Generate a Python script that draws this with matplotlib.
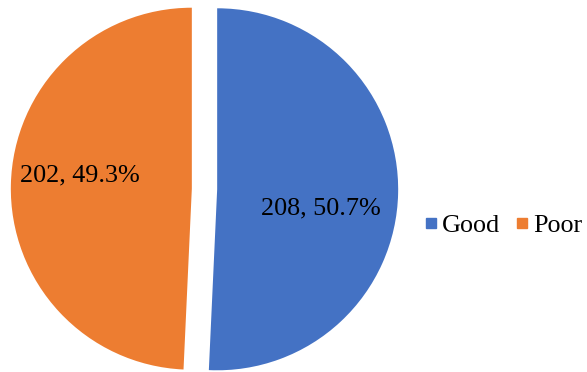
import matplotlib
matplotlib.use("Agg")
import matplotlib.pyplot as plt
from matplotlib.lines import Line2D

labels = ["Good", "Poor"]
counts = [208, 202]
colors = ["#4472C4", "#ED7D31"]

plt.rcParams['font.family'] = ['Liberation Serif', 'DejaVu Serif']

fig = plt.figure(figsize=(5.87, 3.72), dpi=100)
ax = fig.add_axes([0, 0, 1, 1])

total = sum(counts)
wedges, _ = ax.pie(counts, colors=colors, startangle=90, counterclock=False,
                   explode=[0.07, 0.07], radius=1.0)

# limits so that 1 data unit = 181 px, pie centre at (204.5, 189) px from top-left
s = 181.0
ax.set_xlim(-204.5 / s, (587 - 204.5) / s)
ax.set_ylim(-(372 - 189) / s, 189 / s)
ax.set_aspect('auto')
ax.axis('off')

# data labels
pos = [(0.645, -0.11), (-0.69, 0.075)]
for c, (x, y) in zip(counts, pos):
    ax.text(x, y, "%d, %.1f%%" % (c, 100.0 * c / total), ha='center', va='center',
            fontsize=18.8, color='black')

handles = [Line2D([0], [0], marker='s', linestyle='none', markersize=7,
                  markerfacecolor=col, markeredgecolor=col) for col in colors]
fig.legend(handles, labels, loc='center left', bbox_to_anchor=(0.722, 0.395),
           ncol=2, frameon=False, fontsize=18.8, handletextpad=0.15,
           columnspacing=0.55, handlelength=0.55, borderpad=0, borderaxespad=0)

fig.savefig("out.png", dpi=100)
